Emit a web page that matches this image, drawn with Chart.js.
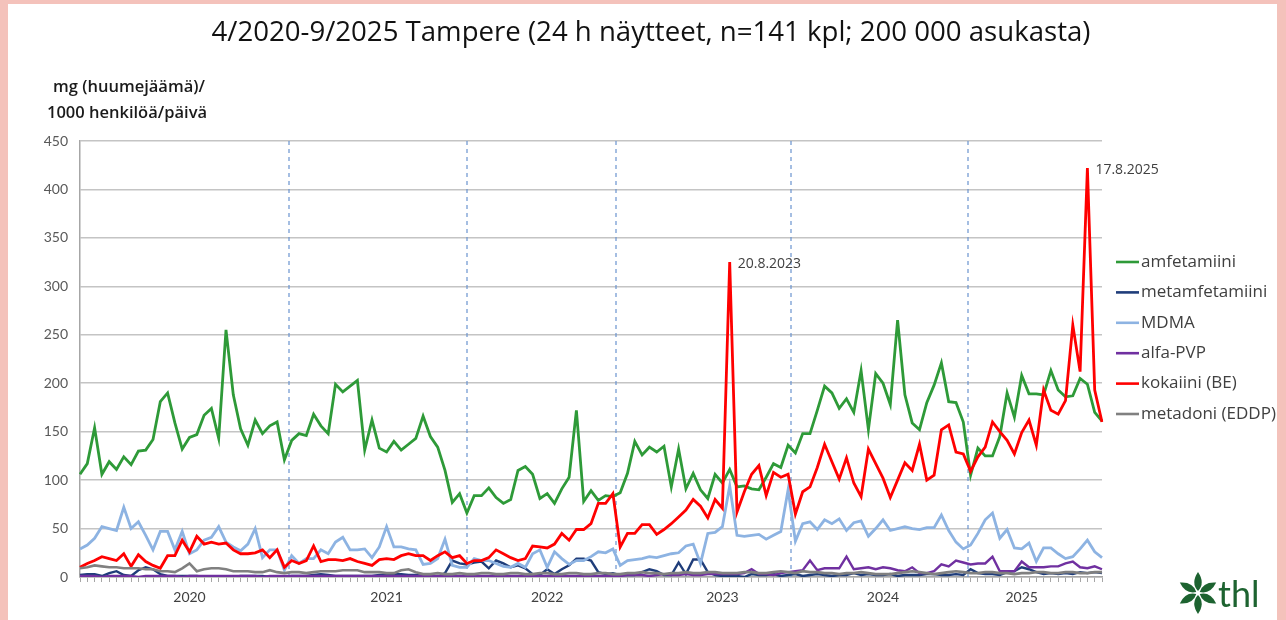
<!DOCTYPE html>
<html lang="fi">
<head>
<meta charset="UTF-8">
<title>Tampere jätevesi 4/2020-9/2025</title>
<script src="https://cdn.jsdelivr.net/npm/chart.js"></script>
<style>
  html, body { margin: 0; padding: 0; background: #f4c2bb; }
  canvas { display: block; }
</style>
</head>
<body>
<canvas id="chart" width="1286" height="620"></canvas>
<script>
// näytteet 1..141 (vuorokausinäytteet)
const samples = Array.from({ length: 141 }, (_, i) => String(i + 1));

// vuosien nimet akselilla ja näytteen indeksi, jonka kohdalla nimi on
const yearLabels = ['2020', '2021', '2022', '2023', '2024', '2025'];
const yearLabelIndex = [15, 42, 64, 88, 110, 129];
// vuodenvaihteet (katkoviivat), näyteindeksinä
const yearBreaks = [28.6, 53.0, 73.4, 97.4, 121.7];

// mg / 1000 hlö / vrk
const amfetamiini = [
  106,117,154,106,119,111,124,116,130,131,
  142,181,190,159,132,144,147,167,174,143,
  255,188,153,136,162,148,156,160,121,141,
  148,146,168,156,148,199,191,197,203,131,
  162,133,129,140,131,137,143,166,145,134,
  110,77,86,66,84,84,92,82,76,80,
  110,114,106,81,86,76,91,103,172,78,
  89,79,84,83,87,107,140,126,134,129,
  135,93,132,91,107,90,81,106,97,111,
  93,94,91,90,103,117,113,136,128,148,
  148,172,197,190,174,184,170,213,152,210,
  200,178,265,188,159,152,180,198,221,181,
  180,160,105,133,125,125,145,190,165,208,
  189,189,188,213,193,186,187,205,199,170,161
];
const metamfetamiini = [
  2,3,3,1,4,6,2,1,7,10,
  8,3,1,1,1,1,1,0,0,0,
  0,0,1,1,1,1,0,0,0,1,
  1,1,2,3,2,1,1,1,1,1,
  1,2,2,3,3,2,2,1,1,0,
  4,17,14,13,15,16,9,17,14,10,
  12,9,3,2,8,3,8,12,19,19,
  17,5,3,4,2,2,2,5,8,6,
  2,2,15,3,18,18,5,2,1,1,
  1,0,3,2,2,3,1,2,3,1,
  2,3,2,1,2,2,4,2,3,2,
  2,3,1,2,2,2,3,3,2,2,
  3,2,8,4,3,3,2,5,6,10,
  8,5,3,4,3,4,3,5,4,5,4
];
const mdma = [
  29,33,40,52,50,48,72,50,57,43,
  28,47,47,28,47,24,28,38,41,52,
  36,31,27,34,50,20,28,28,7,22,
  14,19,19,28,24,36,41,28,28,29,
  20,31,52,31,31,29,28,13,14,19,
  39,12,10,10,19,17,17,14,11,10,
  14,10,24,28,10,26,19,13,17,17,
  21,26,25,29,12,17,18,19,21,20,
  22,24,25,32,34,14,45,46,52,94,
  43,42,43,44,39,43,47,90,37,55,
  57,49,59,55,60,48,56,58,42,50,
  59,48,50,52,50,49,51,51,64,48,
  36,29,33,45,59,66,40,49,30,29,
  35,16,30,30,24,19,21,29,38,26,20
];
const alfaPVP = [
  1,1,1,0,1,1,1,1,0,1,
  1,1,1,1,0,1,1,1,1,1,
  1,1,1,1,1,0,1,1,1,1,
  1,1,1,1,1,1,1,1,1,1,
  1,1,1,1,1,1,1,1,1,1,
  1,1,1,1,1,1,1,1,1,1,
  1,1,1,1,1,1,1,1,1,1,
  1,1,1,1,1,2,2,2,1,2,
  3,2,2,3,2,2,3,3,3,3,
  3,4,8,3,3,2,4,5,6,7,
  17,7,9,9,9,21,8,9,10,8,
  10,9,7,6,10,4,4,6,13,11,
  17,15,13,14,14,21,6,6,6,16,
  10,10,10,11,11,14,16,10,9,11,8
];
const kokaiini = [
  10,14,17,21,19,17,24,11,23,16,
  12,9,22,22,38,26,42,34,36,34,
  35,28,24,24,25,28,20,28,10,17,
  14,17,32,16,18,18,17,19,16,14,
  12,18,19,18,22,24,22,22,17,22,
  26,20,22,14,17,17,20,28,24,20,
  17,19,32,31,30,34,45,38,49,49,
  55,76,76,86,31,45,45,54,54,44,
  49,55,62,69,80,73,61,80,71,325,
  67,88,106,115,84,108,103,106,65,88,
  93,113,137,119,101,123,97,83,132,117,
  102,82,100,118,110,137,100,105,152,157,
  129,127,109,124,134,160,150,141,127,149,
  162,136,193,172,168,182,260,212,422,193,160
];
const metadoni = [
  9,10,12,11,10,10,9,9,9,8,
  8,6,6,5,9,14,6,8,9,9,
  8,6,6,6,5,5,7,5,4,5,
  5,4,5,6,6,6,7,7,7,5,
  5,5,4,4,7,8,5,3,3,4,
  3,3,4,3,3,4,4,3,3,4,
  4,3,3,4,4,3,3,4,4,3,
  3,4,4,3,3,4,4,5,4,4,
  3,4,4,5,4,4,5,5,4,4,
  4,5,5,4,4,5,6,5,4,6,
  5,5,4,4,3,4,4,5,4,3,
  3,3,4,5,6,5,4,3,4,5,
  6,5,4,4,5,5,4,4,3,4,
  4,5,5,4,4,5,5,4,4,5,5
];

// huippujen merkinnät: [sarja, näyteindeksi, teksti]
const peakNotes = [
  ['kokaiini (BE)', 89, '20.8.2023'],
  ['kokaiini (BE)', 138, '17.8.2025']
];

const series = [
  { label: 'amfetamiini', data: amfetamiini, color: '#2e9a38', width: 2.8 },
  { label: 'metamfetamiini', data: metamfetamiini, color: '#1f3d7a', width: 2.4 },
  { label: 'MDMA', data: mdma, color: '#8db3e2', width: 2.8 },
  { label: 'alfa-PVP', data: alfaPVP, color: '#7030a0', width: 2.4 },
  { label: 'kokaiini (BE)', data: kokaiini, color: '#ff0000', width: 2.8 },
  { label: 'metadoni (EDDP)', data: metadoni, color: '#808080', width: 2.6 }
];

const TITLE = '4/2020-9/2025 Tampere (24 h näytteet, n=141 kpl; 200 000 asukasta)';
const FONT = '"Open Sans", Lato, sans-serif';
const TICKFONT = 'Lato, "Open Sans", sans-serif';

const extras = {
  id: 'extras',
  beforeDraw(chart) {
    const c = chart.ctx;
    c.save();
    c.fillStyle = '#f4c2bb';
    c.fillRect(0, 0, chart.width, chart.height);
    c.fillStyle = '#ffffff';
    c.fillRect(8, 4, 1269, 616);
    c.restore();
  },
  beforeDatasetsDraw(chart) {
    // vuodenvaihteet katkoviivoina
    const c = chart.ctx, x = chart.scales.x, a = chart.chartArea;
    c.save();
    c.strokeStyle = '#6b93cf';
    c.lineWidth = 1.2;
    c.setLineDash([4, 4]);
    yearBreaks.forEach(v => {
      const px = Math.round(x.getPixelForValue(v));
      c.beginPath();
      c.moveTo(px, a.top);
      c.lineTo(px, a.bottom);
      c.stroke();
    });
    c.restore();
  },
  afterDraw(chart) {
    const c = chart.ctx;
    c.save();
    // otsikko
    c.fillStyle = '#111111';
    c.font = '27.6px ' + FONT;
    c.textAlign = 'center';
    c.textBaseline = 'middle';
    c.fillText(TITLE, 651, 33);

    // y-akselin otsikko
    c.fillStyle = '#1a1a1a';
    c.font = '600 16.5px ' + FONT;
    c.fillText('mg (huumejäämä)/', 129, 87);
    c.fillText('1000 henkilöä/päivä', 127, 113);

    // selite
    c.font = '17px ' + FONT;
    c.textAlign = 'left';
    chart.data.datasets.forEach((ds, i) => {
      const y = 262 + i * 30.4;
      c.strokeStyle = ds.borderColor;
      c.lineWidth = 2.6;
      c.beginPath();
      c.moveTo(1116, y);
      c.lineTo(1139, y);
      c.stroke();
      c.fillStyle = '#404040';
      c.fillText(ds.label, 1141, y);
    });

    // huippujen päivämäärät
    c.font = '14px ' + FONT;
    c.fillStyle = '#404040';
    peakNotes.forEach(([name, idx, txt]) => {
      const di = chart.data.datasets.findIndex(d => d.label === name);
      const pt = chart.getDatasetMeta(di).data[idx];
      c.fillText(txt, pt.x + 8, pt.y + 2);
    });

    // thl-logo
    const cx = 1198, cy = 593;
    c.fillStyle = '#1d6330';
    for (let k = 0; k < 6; k++) {
      const ang = (-90 + k * 60) * Math.PI / 180;
      c.save();
      c.translate(cx, cy);
      c.rotate(ang);
      c.beginPath();
      c.moveTo(2, 0);
      c.quadraticCurveTo(10, -7.5, 21, 0);
      c.quadraticCurveTo(10, 7.5, 2, 0);
      c.fill();
      c.restore();
    }
    c.font = '36px ' + TICKFONT;
    c.textBaseline = 'alphabetic';
    c.fillText('thl', 1218, 607);
    c.restore();
  }
};

new Chart(document.getElementById('chart'), {
  type: 'line',
  data: {
    labels: samples,
    datasets: series.map((s, i) => ({
      label: s.label,
      data: s.data,
      borderColor: s.color,
      backgroundColor: s.color,
      borderWidth: s.width,
      pointRadius: 0,
      tension: 0,
      order: series.length - i
    }))
  },
  options: {
    responsive: false,
    animation: false,
    layout: { padding: { left: 0, right: 184, top: 141, bottom: 0 } },
    plugins: {
      legend: { display: false },
      tooltip: { enabled: false },
      title: { display: false }
    },
    scales: {
      x: {
        grid: { drawOnChartArea: false, color: '#a6a6a6', tickColor: '#a6a6a6', tickLength: 5 },
        border: { color: '#a6a6a6', width: 1.5 },
        ticks: {
          autoSkip: false,
          maxRotation: 0,
          padding: 7,
          color: '#404040',
          font: { family: TICKFONT, size: 14 },
          callback: (v, i) => {
            const k = yearLabelIndex.indexOf(i);
            return k >= 0 ? yearLabels[k] : '';
          }
        },
        afterFit: s => { s.height = 43; }
      },
      y: {
        min: 0,
        max: 450,
        ticks: { stepSize: 50, padding: 12, color: '#595959', font: { family: TICKFONT, size: 14 } },
        grid: { color: '#c4c4c4', lineWidth: 1.5, drawTicks: false },
        border: { color: '#a6a6a6', width: 1.5 },
        afterFit: s => { s.width = 80; }
      }
    }
  },
  plugins: [extras]
});
</script>
</body>
</html>
